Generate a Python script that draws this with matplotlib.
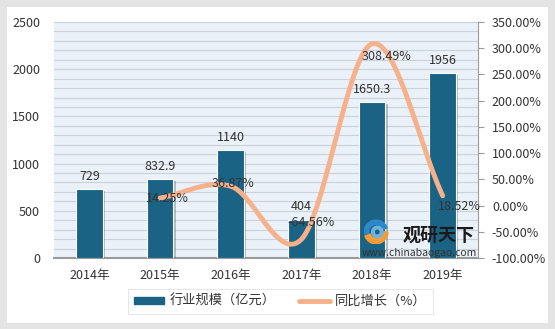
import numpy as np
import matplotlib
matplotlib.use("Agg")
import matplotlib.pyplot as plt
from matplotlib.patches import Rectangle, Wedge
import matplotlib.patheffects as pe

plt.rcParams['font.family'] = ['Noto Sans CJK SC', 'DejaVu Sans']

years = ["2014年", "2015年", "2016年", "2017年", "2018年", "2019年"]
scale = [729, 832.9, 1140, 404, 1650.3, 1956]
scale_labels = ["729", "832.9", "1140", "404", "1650.3", "1956"]
growth_years = ["2015年", "2016年", "2017年", "2018年", "2019年"]
growth = [14.25, 36.87, -64.56, 308.49, 18.52]

bar_color = "#1B6385"
line_color = "#F6B18B"
text_color = "#333333"

fig = plt.figure(figsize=(5.55, 3.29), dpi=100)
fig.patch.set_facecolor("#E4E4E4")
fig.patches.append(Rectangle((0.012, 0.018), 0.976, 0.962, transform=fig.transFigure,
                             facecolor="white", edgecolor="none", zorder=-10))

ax = fig.add_axes([0.0973, 0.216, 0.764, 0.717])
ax.set_facecolor("#EAF1F8")
x = np.arange(len(years))
ax.bar(x, scale, width=0.38, color=bar_color, edgecolor="white", linewidth=0.8, zorder=3,
       path_effects=[pe.SimplePatchShadow(offset=(1.5, -1.5), alpha=0.25), pe.Normal()])
for xi, v, s in zip(x, scale, scale_labels):
    ax.text(xi, v + 70, s, ha="center", va="bottom", fontsize=9, color=text_color, zorder=6)

ax.set_ylim(0, 2500)
ax.set_xlim(-0.5, len(years) - 0.5)
ax.set_yticks(np.arange(0, 2501, 500))
ax.set_yticks(np.arange(0, 2501, 100), minor=True)
ax.grid(axis="y", which="both", color="#CBD1D8", linewidth=0.8, zorder=0)
ax.set_axisbelow(True)
ax.set_xticks(x)
ax.set_xticklabels(years, fontsize=9, color=text_color)
ax.tick_params(axis="y", which="both", length=0, labelsize=9, labelcolor=text_color, pad=10)
ax.tick_params(axis="x", length=0, pad=8)
for s in ["left", "top", "right"]:
    ax.spines[s].set_visible(False)
ax.spines["bottom"].set_color("#9A9A9A")
ax.spines["bottom"].set_linewidth(1.5)

ax2 = ax.twinx()
ax2.set_ylim(-100, 350)
ax2.set_yticks(np.arange(-100, 351, 50))
ax2.set_yticklabels([f"{v:.2f}%" for v in np.arange(-100, 351, 50)])
ax2.tick_params(axis="y", length=4, color="#9A9A9A", labelsize=9, labelcolor=text_color, pad=6)
for s in ["left", "top", "bottom"]:
    ax2.spines[s].set_visible(False)
ax2.spines["right"].set_color("#9A9A9A")

# smooth curve through growth points (cubic Hermite, Catmull-Rom tangents)
gx = np.array([years.index(y) for y in growth_years], dtype=float)
gy = np.array(growth, dtype=float)
n = len(gy)
m = np.zeros(n)
m[0] = gy[1] - gy[0]
m[-1] = gy[-1] - gy[-2]
m[1:-1] = (gy[2:] - gy[:-2]) / 2
xs, ys = [], []
for i in range(n - 1):
    t = np.linspace(0, 1, 40)
    h00 = 2 * t**3 - 3 * t**2 + 1
    h10 = t**3 - 2 * t**2 + t
    h01 = -2 * t**3 + 3 * t**2
    h11 = t**3 - t**2
    xs.append(gx[i] + t)
    ys.append(h00 * gy[i] + h10 * m[i] + h01 * gy[i + 1] + h11 * m[i + 1])
ax2.plot(np.concatenate(xs), np.concatenate(ys), color=line_color, linewidth=3.5,
         solid_capstyle="round", zorder=4)

offsets = [(0.11, 0), (0.03, 6), (0.14, 33), (0.2, -25), (0.23, -21)]
for xi, v, (dx, dy) in zip(gx, gy, offsets):
    ax2.text(xi + dx, v + dy, f"{v:.2f}%", ha="center", va="center", fontsize=9,
             color=text_color, zorder=6)

# watermark
fig.text(0.79, 0.285, "观研天下", fontsize=13, fontweight="bold", color="#1A1A1A",
         ha="center", va="center", zorder=7)
fig.text(0.755, 0.232, "www.chinabaogao.com", fontsize=7.5, color=text_color,
         ha="center", va="center", zorder=7)
logo_ax = fig.add_axes([0.655, 0.255, 0.045, 0.08])
logo_ax.set_xlim(-1, 1)
logo_ax.set_ylim(-1, 1)
logo_ax.set_aspect("equal")
logo_ax.axis("off")
logo_ax.add_patch(Wedge((0, 0), 0.95, 200, 360, width=0.45, color="#F29B3A"))
logo_ax.add_patch(Wedge((0, 0), 0.95, 20, 190, width=0.35, color="#2C88C9"))
logo_ax.add_patch(Wedge((0.1, 0), 0.45, 0, 360, width=0.2, color="#6FB3E0"))

h1 = Rectangle((0, 0), 1, 1, color=bar_color)
h2 = plt.Line2D([0], [0], color=line_color, linewidth=3.5, solid_capstyle="round")
leg = fig.legend([h1, h2], ["行业规模（亿元）", "同比增长（%）"], loc="center",
                 bbox_to_anchor=(0.505, 0.083), ncol=2, frameon=True, fontsize=9.5,
                 handlelength=2.3, handleheight=0.5, handletextpad=0.4, columnspacing=1.8,
                 borderpad=0.45, fancybox=False, shadow=False)
leg.get_frame().set_edgecolor("#E2E2E2")
leg.get_frame().set_linewidth(0.8)
for t in leg.get_texts():
    t.set_color(text_color)

fig.savefig("out.png", dpi=100, facecolor=fig.get_facecolor())
